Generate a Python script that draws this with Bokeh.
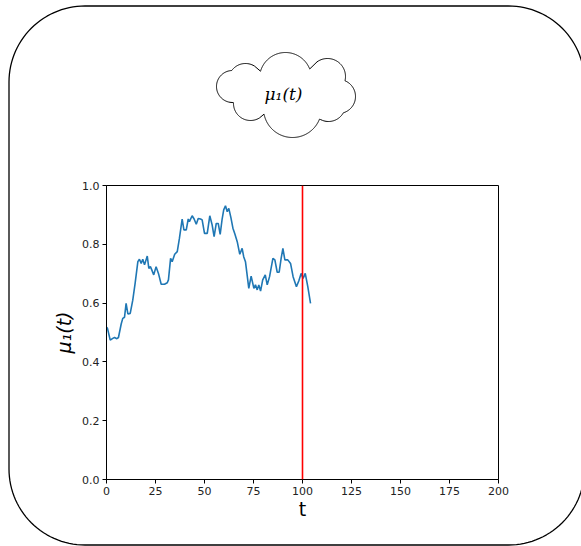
import math
from bokeh.plotting import figure
from bokeh.layouts import column
from bokeh.models import Span, FixedTicker, NumeralTickFormatter, Range1d
from bokeh.embed import file_html
from bokeh.resources import INLINE
from bokeh.core.properties import value

# ---- data ----
t_vals = [0, 0.5, 1.9, 3.2, 4.1, 5.3, 6.1, 7.5, 8.3, 9.2, 10, 10.9, 12.1, 13.4, 14.6,
          16, 16.8, 17.7, 18.5, 19.4, 20.8, 21.6, 22.4, 23.1, 24.1, 25.3, 26.5, 27.9,
          29.6, 31, 31.6, 32.7, 33.5, 34.8, 36.1, 37.2, 38.6, 39.5, 40.7, 41.7, 42.3,
          43.7, 44.7, 45.8, 46.8, 48, 48.8, 50, 51.4, 52.7, 53.9, 54.9, 56, 57, 58, 59,
          59.8, 60.7, 61.6, 62.4, 63.5, 64.5, 65.5, 66.7, 68, 69.2, 70, 70.9, 72.6,
          73.8, 75.2, 76, 76.9, 77.7, 78.6, 79.7, 81, 82, 83.2, 84.9, 85.9, 87.1, 88.1,
          89.1, 90, 91, 92.5, 93.9, 95.2, 96.9, 98.1, 99.3, 100.3, 101.4, 102.7, 104.1]
mu_vals = [0.518, 0.514, 0.474, 0.48, 0.483, 0.479, 0.483, 0.529, 0.548, 0.552, 0.599,
           0.563, 0.565, 0.61, 0.667, 0.741, 0.749, 0.735, 0.749, 0.73, 0.76, 0.718,
           0.724, 0.713, 0.696, 0.724, 0.701, 0.664, 0.664, 0.669, 0.679, 0.752, 0.741,
           0.766, 0.775, 0.82, 0.886, 0.849, 0.849, 0.886, 0.877, 0.897, 0.886, 0.868,
           0.888, 0.886, 0.883, 0.837, 0.837, 0.897, 0.866, 0.826, 0.871, 0.871, 0.834,
           0.886, 0.917, 0.931, 0.911, 0.922, 0.89, 0.855, 0.835, 0.809, 0.766, 0.786,
           0.758, 0.741, 0.65, 0.692, 0.65, 0.662, 0.645, 0.662, 0.641, 0.679, 0.696,
           0.662, 0.69, 0.752, 0.747, 0.705, 0.705, 0.752, 0.786, 0.747, 0.747, 0.735,
           0.69, 0.656, 0.675, 0.701, 0.684, 0.701, 0.656, 0.599]
t_marker = 100
x_ticks = [0, 25, 50, 75, 100, 125, 150, 175, 200]
y_ticks = [0.0, 0.2, 0.4, 0.6, 0.8, 1.0]
x_label = "t"
y_label = "μ₁(t)"
cloud_text = "μ₁(t)"

W, H = 581, 546

# ---- main chart ----
p = figure(width=W, height=H, output_backend="svg", toolbar_location=None,
           x_range=Range1d(0, 200), y_range=Range1d(0, 1),
           min_border_left=106, min_border_right=83, min_border_top=185,
           min_border_bottom=67)
p.frame_align = False
p.background_fill_color = "white"
p.border_fill_color = "white"
p.outline_line_color = "black"
p.outline_line_width = 1
p.grid.visible = False

for ax in (p.xaxis, p.yaxis):
    ax.axis_line_color = "black"
    ax.major_tick_line_color = "black"
    ax.minor_tick_line_color = None
    ax.major_tick_out = 4
    ax.major_tick_in = 0
    ax.major_label_text_font = "DejaVu Sans"
    ax.major_label_text_font_size = "11px"
    ax.major_label_text_color = "#222222"
    ax.axis_label_text_font = "DejaVu Sans"
    ax.axis_label_text_font_size = "19px"
    ax.axis_label_text_color = "black"

p.xaxis.ticker = FixedTicker(ticks=x_ticks)
p.yaxis.ticker = FixedTicker(ticks=y_ticks)
p.yaxis.formatter = NumeralTickFormatter(format="0.0")
p.xaxis.major_label_standoff = 3
p.yaxis.major_label_standoff = 3
p.xaxis.axis_label = x_label
p.yaxis.axis_label = y_label
p.xaxis.axis_label_text_font_style = "normal"
p.yaxis.axis_label_text_font_style = "italic"
p.xaxis.axis_label_standoff = 0
p.yaxis.axis_label_standoff = 4

p.line(t_vals, mu_vals, line_color="#1f77b4", line_width=1.6)
p.add_layout(Span(location=t_marker, dimension="height", line_color="red", line_width=1.6))

# ---- decoration overlay (transparent, frame covers whole page, pixel coords) ----
d = figure(width=W, height=H, output_backend="svg", toolbar_location=None,
           x_range=Range1d(0, W), y_range=Range1d(H, 0),
           x_axis_location=None, y_axis_location=None,
           min_border=0, min_border_left=0, min_border_right=0,
           min_border_top=0, min_border_bottom=0)
d.frame_align = False
d.background_fill_color = None
d.border_fill_color = None
d.outline_line_color = None
d.grid.visible = False
d.margin = (-H, 0, 0, 0)

# rounded outer frame
L, T, R, B, rad = 8.5, 5.5, 584.0, 544.5, 76.0
fx, fy = [], []
corners = [(R - rad, T + rad, -90, 0), (R - rad, B - rad, 0, 90),
           (L + rad, B - rad, 90, 180), (L + rad, T + rad, 180, 270)]
for (ccx, ccy, a0, a1) in corners:
    for k in range(31):
        a = math.radians(a0 + (a1 - a0) * k / 30)
        fx.append(ccx + rad * math.cos(a))
        fy.append(ccy + rad * math.sin(a))
fx.append(fx[0]); fy.append(fy[0])
d.line(fx, fy, line_color="black", line_width=1.3)

# cloud as union of circular lobes
lobes = [(232, 86, 16), (245, 80, 17), (285, 78, 26), (327, 76, 18), (338, 96, 17),
         (328, 104, 17), (292, 108, 29), (250, 103, 17), (285, 95, 25)]
cx0, cy0 = 285, 94
xs, ys = [], []
n = 720
for i in range(n):
    a = 2 * math.pi * i / n
    dx, dy = math.cos(a), math.sin(a)
    best = 0
    for (cx, cy, r) in lobes:
        ox, oy = cx - cx0, cy - cy0
        b = dx * ox + dy * oy
        disc = b * b - (ox * ox + oy * oy - r * r)
        if disc >= 0:
            best = max(best, b + math.sqrt(disc))
    xs.append(cx0 + best * dx)
    ys.append(cy0 + best * dy)
d.patch(xs, ys, fill_color="white", line_color="black", line_width=1.0)
d.text(x=[283], y=[93], text=[cloud_text], text_font=value("DejaVu Serif"),
       text_font_style="italic", text_font_size="17px", text_align="center",
       text_baseline="middle", text_color="black")

layout = column(p, d)
open("out.html", "w").write(file_html(layout, INLINE))
